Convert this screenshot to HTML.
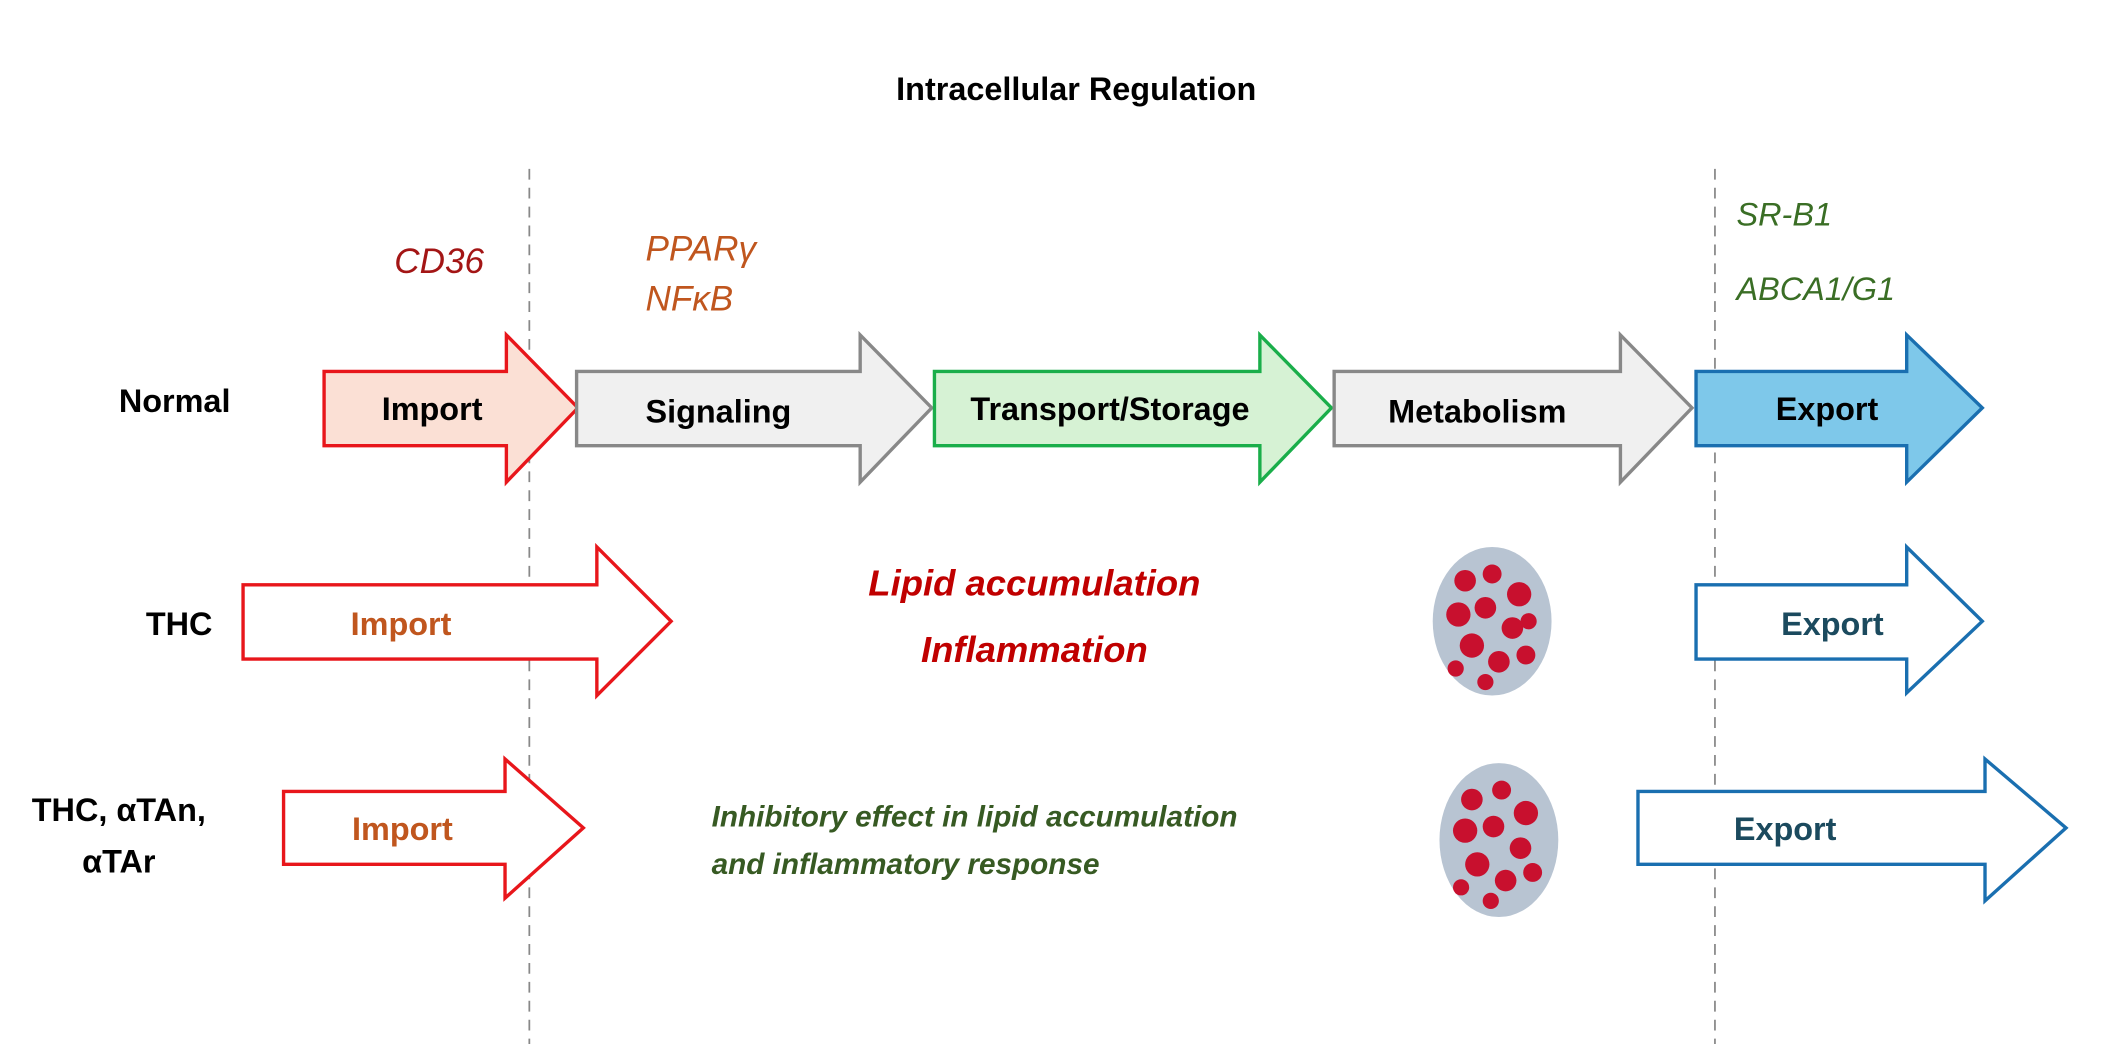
<!DOCTYPE html>
<html><head><meta charset="utf-8"><style>html,body{margin:0;padding:0;background:#fff}svg{display:block}text{font-family:"Liberation Sans",sans-serif}</style></head>
<body>
<svg width="2116" height="1044" viewBox="0 0 1567 773" preserveAspectRatio="none" xmlns="http://www.w3.org/2000/svg">
<rect width="1567" height="773" fill="#fff"/>
<line x1="392" y1="125" x2="392" y2="773" stroke="#888" stroke-width="1.3" stroke-dasharray="8,6"/>
<line x1="1270" y1="125" x2="1270" y2="773" stroke="#888" stroke-width="1.3" stroke-dasharray="8,6"/>
<text x="797" y="74" font-size="24" font-weight="bold" text-anchor="middle">Intracellular Regulation</text>
<text x="292" y="202" font-size="26" font-style="italic" fill="#a31515">CD36</text>
<text x="478" y="193" font-size="26" font-style="italic" fill="#c0561e">PPAR&#947;</text>
<text x="478" y="230" font-size="26" font-style="italic" fill="#c0561e">NF&#954;B</text>
<text x="1286" y="167" font-size="24" font-style="italic" fill="#3a6e25">SR-B1</text>
<text x="1286" y="222" font-size="24" font-style="italic" fill="#3a6e25">ABCA1/G1</text>
<g stroke-width="2.5">
<polygon points="240,275 375,275 375,248 428,302 375,357 375,330 240,330" fill="#fbe0d5" stroke="#e8161b"/>
<polygon points="427,275 637,275 637,248 690,302 637,357 637,330 427,330" fill="#f0f0f0" stroke="#888"/>
<polygon points="692,275 933,275 933,248 986,302 933,357 933,330 692,330" fill="#d6f2d4" stroke="#1aae4a"/>
<polygon points="988,275 1200,275 1200,248 1253,302 1200,357 1200,330 988,330" fill="#f0f0f0" stroke="#888"/>
<polygon points="1256,275 1412,275 1412,248 1468,302 1412,357 1412,330 1256,330" fill="#7ec8ea" stroke="#1a6fb0"/>
<polygon points="180,433 442,433 442,405 497,460 442,515 442,488 180,488" fill="#fff" stroke="#e8161b"/>
<polygon points="1256,433 1412,433 1412,405 1468,460 1412,513 1412,488 1256,488" fill="#fff" stroke="#1a6fb0"/>
<polygon points="210,586 374,586 374,562 432,613 374,665 374,640 210,640" fill="#fff" stroke="#e8161b"/>
<polygon points="1213,586 1470,586 1470,562 1530,613 1470,667 1470,640 1213,640" fill="#fff" stroke="#1a6fb0"/>
</g>
<g font-size="24" font-weight="bold">
<text x="88" y="305">Normal</text>
<text x="108" y="470">THC</text>
<text x="88" y="608" text-anchor="middle">THC, &#945;TAn,</text>
<text x="88" y="646" text-anchor="middle">&#945;TAr</text>
<text x="320" y="311" text-anchor="middle">Import</text>
<text x="532" y="313" text-anchor="middle">Signaling</text>
<text x="822" y="311" text-anchor="middle">Transport/Storage</text>
<text x="1094" y="313" text-anchor="middle">Metabolism</text>
<text x="1353" y="311" text-anchor="middle">Export</text>
<text x="297" y="470" text-anchor="middle" fill="#c0561e">Import</text>
<text x="1357" y="470" text-anchor="middle" fill="#1b4a5e">Export</text>
<text x="298" y="622" text-anchor="middle" fill="#c0561e">Import</text>
<text x="1322" y="622" text-anchor="middle" fill="#1b4a5e">Export</text>
</g>
<g font-size="27" font-weight="bold" font-style="italic" fill="#c00000" text-anchor="middle">
<text x="766" y="441">Lipid accumulation</text>
<text x="766" y="490">Inflammation</text>
</g>
<g font-size="22" font-weight="bold" font-style="italic" fill="#375a23">
<text x="527" y="612">Inhibitory effect in lipid accumulation</text>
<text x="527" y="647">and inflammatory response</text>
</g>
<g>
<ellipse cx="1105" cy="460" rx="44" ry="55" fill="#b8c4d2"/>
<g fill="#c8102e">
<circle cx="1085" cy="430" r="8"/><circle cx="1105" cy="425" r="7"/><circle cx="1125" cy="440" r="9"/><circle cx="1080" cy="455" r="9"/><circle cx="1100" cy="450" r="8"/><circle cx="1120" cy="465" r="8"/><circle cx="1090" cy="478" r="9"/><circle cx="1110" cy="490" r="8"/><circle cx="1130" cy="485" r="7"/><circle cx="1078" cy="495" r="6"/><circle cx="1100" cy="505" r="6"/><circle cx="1132" cy="460" r="6"/>
</g>
<ellipse cx="1110" cy="622" rx="44" ry="57" fill="#b8c4d2"/>
<g fill="#c8102e">
<circle cx="1090" cy="592" r="8"/><circle cx="1112" cy="585" r="7"/><circle cx="1130" cy="602" r="9"/><circle cx="1085" cy="615" r="9"/><circle cx="1106" cy="612" r="8"/><circle cx="1126" cy="628" r="8"/><circle cx="1094" cy="640" r="9"/><circle cx="1115" cy="652" r="8"/><circle cx="1135" cy="646" r="7"/><circle cx="1082" cy="657" r="6"/><circle cx="1104" cy="667" r="6"/>
</g>
</g>
</svg>
</body></html>
